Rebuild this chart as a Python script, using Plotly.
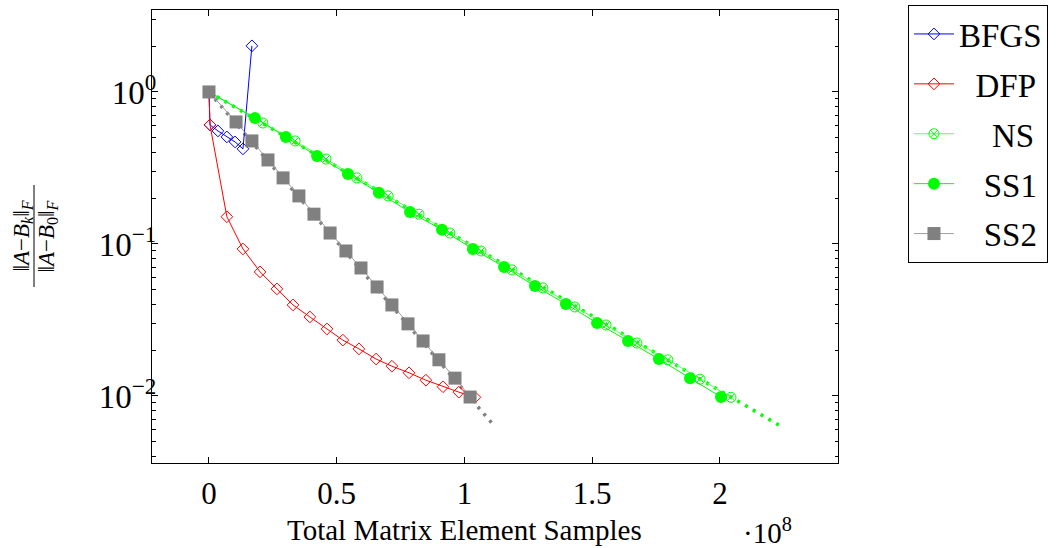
import plotly.graph_objects as go

# x values in units of 1e8 samples
bfgs_x = [0, 0.004, 0.035, 0.070, 0.102, 0.133, 0.168]
bfgs_y = [1.0, 0.607, 0.554, 0.506, 0.469, 0.422, 2.01]

dfp_x = [0, 0.004, 0.070, 0.133, 0.200, 0.266, 0.329, 0.395, 0.462, 0.524,
         0.587, 0.654, 0.716, 0.783, 0.849, 0.916, 0.978, 1.041]
dfp_y = [1.0, 0.607, 0.151, 0.0927, 0.0655, 0.0506, 0.0397, 0.0331, 0.0276, 0.0233,
         0.0204, 0.0175, 0.0157, 0.0142, 0.0127, 0.0115, 0.0106, 0.0098]

ns_x = [0, 0.211, 0.337, 0.458, 0.579, 0.701, 0.822, 0.943, 1.065, 1.186,
        1.307, 1.432, 1.554, 1.675, 1.796, 1.922, 2.043]
ns_y = [1.0, 0.625, 0.476, 0.362, 0.272, 0.207, 0.157, 0.118, 0.0899, 0.0675,
        0.0514, 0.0385, 0.0293, 0.0223, 0.0173, 0.0129, 0.0098]

ss1_x = [0, 0.180, 0.301, 0.423, 0.544, 0.665, 0.787, 0.912, 1.033, 1.155,
         1.276, 1.397, 1.519, 1.640, 1.761, 1.883, 2.004]
ss1_y = [1.0, 0.674, 0.506, 0.379, 0.289, 0.217, 0.162, 0.124, 0.0927, 0.0706,
         0.0529, 0.0403, 0.0302, 0.0230, 0.0175, 0.0131, 0.00985]

ss2_x = [0, 0.106, 0.168, 0.231, 0.290, 0.352, 0.411, 0.474, 0.536, 0.595,
         0.658, 0.716, 0.779, 0.838, 0.900, 0.963, 1.022]
ss2_y = [1.0, 0.635, 0.476, 0.357, 0.272, 0.207, 0.157, 0.118, 0.0899, 0.0695,
         0.0521, 0.0397, 0.0298, 0.0230, 0.0173, 0.0131, 0.00984]

# dotted reference rates
ss1_rate_x = [0, 2.24]
ss1_rate_y = [1.0, 0.0063]
ss2_rate_x = [0, 1.12]
ss2_rate_y = [1.0, 0.00625]

x_ticks = [0, 0.5, 1, 1.5, 2]
x_tick_text = ["0", "0.5", "1", "1.5", "2"]
y_ticks = [1, 0.1, 0.01]
y_tick_text = ["10<sup>0</sup>", "10<sup>\u22121</sup>", "10<sup>\u22122</sup>"]
y_minor = [m * d for d in [0.001, 0.01, 0.1, 1] for m in range(2, 10)]

FONT = "Liberation Serif"
BLUE, RED, GREEN, GRAY = "#0000ff", "#ff0000", "#00ff00", "#808080"

fig = go.Figure()

fig.add_trace(go.Scatter(x=ss2_rate_x, y=ss2_rate_y, mode="lines", showlegend=False,
                         line=dict(color=GRAY, width=3.5, dash="3px,6px"), hoverinfo="skip"))
fig.add_trace(go.Scatter(x=ss1_rate_x, y=ss1_rate_y, mode="lines", showlegend=False,
                         line=dict(color=GREEN, width=3.5, dash="3px,6px"), hoverinfo="skip"))

fig.add_trace(go.Scatter(x=bfgs_x, y=bfgs_y, name="BFGS", mode="lines+markers", legendgroup="a",
                         line=dict(color=BLUE, width=1),
                         marker=dict(symbol="diamond-open", size=9, color=BLUE, line=dict(width=1))))
fig.add_trace(go.Scatter(x=dfp_x, y=dfp_y, name="&nbsp;&nbsp;DFP", mode="lines+markers", legendgroup="b",
                         line=dict(color=RED, width=1),
                         marker=dict(symbol="diamond-open", size=9, color=RED, line=dict(width=1))))
fig.add_trace(go.Scatter(x=ns_x, y=ns_y, name="&nbsp;&nbsp;&nbsp;&nbsp;NS", mode="lines+markers", legendgroup="c",
                         line=dict(color="#5cff5c", width=1),
                         marker=dict(symbol="circle-x-open", size=10, color=GREEN, line=dict(width=1))))
fig.add_trace(go.Scatter(x=ss1_x, y=ss1_y, name="&nbsp;&nbsp;&nbsp;SS1", mode="lines+markers", legendgroup="d",
                         line=dict(color=GREEN, width=1),
                         marker=dict(symbol="circle", size=12, color=GREEN, line=dict(width=0))))
fig.add_trace(go.Scatter(x=ss2_x, y=ss2_y, name="&nbsp;&nbsp;&nbsp;SS2", mode="lines+markers", legendgroup="e",
                         line=dict(color="#a0a0a0", width=1),
                         marker=dict(symbol="square", size=13, color=GRAY, line=dict(width=0))))

axis_common = dict(showline=True, linecolor="black", linewidth=1, mirror="allticks",
                   ticks="inside", ticklen=6, tickcolor="black", showgrid=False, zeroline=False)

fig.update_xaxes(range=[-0.223, 2.462], tickvals=x_ticks, ticktext=x_tick_text,
                 ticklabelstandoff=3, tickfont=dict(family=FONT, size=31, color="black"),
                 **axis_common)
fig.update_yaxes(type="log", range=[-2.441, 0.539], tickvals=y_ticks, ticktext=y_tick_text,
                 ticklabelstandoff=-12, tickfont=dict(family=FONT, size=33, color="black"),
                 minor=dict(ticks="inside", ticklen=3.5, tickcolor="black", tickvals=y_minor),
                 **axis_common)

fig.update_layout(
    width=1056, height=548,
    margin=dict(l=152, r=218, t=10, b=85, autoexpand=False),
    plot_bgcolor="white", paper_bgcolor="white",
    font=dict(family=FONT, size=29, color="black"),
    legend=dict(x=1.102, y=(463 - 5) / 453, xanchor="left", yanchor="top",
                bordercolor="black", borderwidth=1, tracegroupgap=4,
                font=dict(family=FONT, size=33, color="black"), itemwidth=40),
    showlegend=True,
)

# x-axis title and multiplier
fig.add_annotation(text="Total Matrix Element Samples", xref="paper", yref="paper",
                   x=(464 - 152) / 686, y=(463 - 530) / 453, xanchor="center", yanchor="middle",
                   showarrow=False, font=dict(family=FONT, size=29))
fig.add_annotation(text="\u00b710<sup>8</sup>", xref="paper", yref="paper",
                   x=(767 - 152) / 686, y=(463 - 531) / 453, xanchor="center", yanchor="middle",
                   showarrow=False, font=dict(family=FONT, size=29))

# y-axis title as a rotated fraction
fig.add_annotation(text="\u2016<i>A</i>\u2212<i>B<sub>k</sub></i>\u2016<sub><i>F</i></sub>",
                   xref="paper", yref="paper",
                   x=(22 - 152) / 686, y=0.5, xanchor="center", yanchor="middle", textangle=-90,
                   showarrow=False, font=dict(family=FONT, size=23))
fig.add_annotation(text="\u2016<i>A</i>\u2212<i>B</i><sub>0</sub>\u2016<sub><i>F</i></sub>",
                   xref="paper", yref="paper",
                   x=(47 - 152) / 686, y=0.5, xanchor="center", yanchor="middle", textangle=-90,
                   showarrow=False, font=dict(family=FONT, size=23))
fig.add_shape(type="line", xref="paper", yref="paper",
              x0=(34 - 152) / 686, x1=(34 - 152) / 686,
              y0=(463 - 185) / 453, y1=(463 - 287) / 453,
              line=dict(color="black", width=1))

fig.write_html("out.html")
